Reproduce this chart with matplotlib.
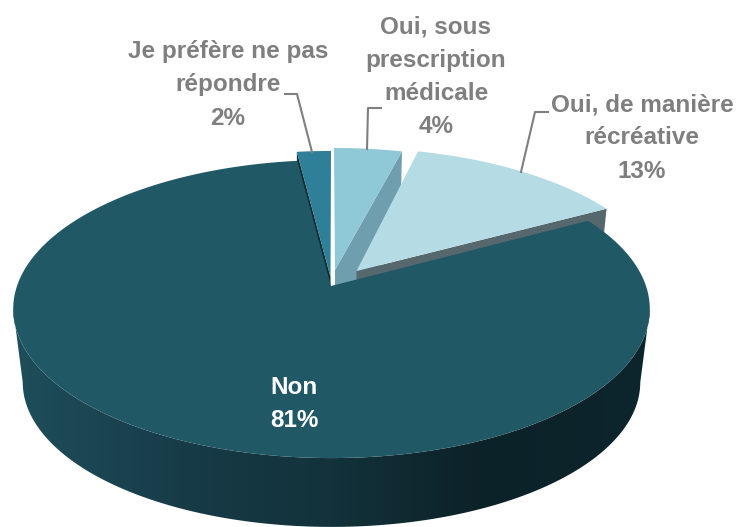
import numpy as np
import matplotlib
matplotlib.use("Agg")
import matplotlib.pyplot as plt
from matplotlib.colors import LinearSegmentedColormap
from matplotlib.patches import Polygon

plt.rcParams['font.family'] = ['Liberation Sans', 'DejaVu Sans']

# data (clockwise from 12 o'clock)
labels = ["Oui, sous\nprescription\nmédicale", "Oui, de manière\nrécréative", "Non", "Je préfère ne pas\nrépondre"]
values = [4, 13, 81, 2]

top_colors = ["#8fc9d8", "#b5dbe4", "#215866", "#2e7f98"]
wall_colors = ["#6f9fae", "#56686e", None, "#0e2a33"]

# how far each slice is pulled out: rim offset, apex offset (pixels)
rim_shift = [(2.5, -12), (18.5, -12), (0, 0), (-0.5, -9)]
apex_shift = [(3.5, -16), (25, -15), (0, 0), (-1, -9)]

# perspective view of the pie
CX, APEX_Y, A, B, K = 331.5, 286, 314.5, 145.5, 0.1544
BASE_Y, BASE_SCALE = 360, 0.97


def rim(deg, base=False):
    t = np.radians(deg)
    x, y = np.sin(t), np.cos(t)
    w = 1 + K * y
    if base:
        return CX + BASE_SCALE * A * x / w, BASE_Y - BASE_SCALE * B * y / w
    return CX + A * x / w, APEX_Y - B * y / w


def rim_points(a0, a1, shift=(0, 0), base=False):
    t = np.linspace(a0, a1, 200)
    x, y = rim(t, base)
    return np.column_stack([x + shift[0], y + shift[1]])


fig = plt.figure(figsize=(7.36, 5.27), dpi=100)
ax = fig.add_axes([0, 0, 1, 1])

edges = np.concatenate([[0], np.cumsum(values)]) * 3.6
non = labels.index("Non")


def exploded_slice(i, cut_angle):
    a0, a1 = edges[i], edges[i + 1]
    apex = (CX + apex_shift[i][0], APEX_Y + apex_shift[i][1])
    apex_base = (CX + apex_shift[i][0], BASE_Y + apex_shift[i][1])
    cut_top = rim_points(cut_angle, cut_angle, rim_shift[i])[0]
    cut_base = rim_points(cut_angle, cut_angle, rim_shift[i], base=True)[0]
    ax.add_patch(Polygon([apex, cut_top, cut_base, apex_base], closed=True,
                         fc=wall_colors[i], ec="none"))
    ax.add_patch(Polygon(np.vstack([[apex], rim_points(a0, a1, rim_shift[i])]), closed=True,
                         fc=top_colors[i], ec="none"))


# back slices first, the big one goes over them
exploded_slice(3, edges[3])
exploded_slice(0, edges[1])
exploded_slice(1, edges[2])

# side wall of the big slice with its gradient, between the widest points of the rim
a0, a1 = edges[non], edges[non + 1]
widest = np.degrees(np.arccos(-K))
wall = np.vstack([rim_points(widest, 360 - widest), rim_points(360 - widest, widest, base=True)])
cmap = LinearSegmentedColormap.from_list("wall", [
    (0.0, "#1f4f5c"), (0.07, "#1d4a57"), (0.27, "#163a46"), (0.45, "#13323b"),
    (0.64, "#0d2229"), (1.0, "#0c262e")])
im = ax.imshow(np.linspace(0, 1, 256).reshape(1, -1), extent=[0, 736, 527, 0],
               aspect="auto", cmap=cmap)
im.set_clip_path(Polygon(wall, closed=True, transform=ax.transData))

ax.add_patch(Polygon(np.vstack([[(CX - 0.5, APEX_Y)], rim_points(a0, a1)]), closed=True,
                     fc=top_colors[non], ec="none"))

# leader lines
grey = "#7f7f7f"
ax.plot([285, 297, 312], [94, 94, 152], color=grey, lw=1.5)
ax.plot([381, 368, 367], [108, 108, 149], color=grey, lw=1.5)
ax.plot([548, 535, 521], [112, 112, 172], color=grey, lw=1.5)

# text
fs = 17.5
text_kw = dict(ha="center", va="center", fontweight="bold", fontsize=fs, linespacing=1.56)
ax.text(436, 77, f"{labels[0]}\n{values[0]}%", color=grey, **text_kw)
ax.text(642, 138, f"{labels[1]}\n{values[1]}%", color=grey, **text_kw)
ax.text(228, 85, f"{labels[3]}\n{values[3]}%", color=grey, **text_kw)
ax.text(294, 404, f"{labels[2]}\n{values[2]}%", color="white", **text_kw)

ax.set_xlim(0, 736)
ax.set_ylim(527, 0)
ax.axis("off")

fig.savefig("out.png", dpi=100)
